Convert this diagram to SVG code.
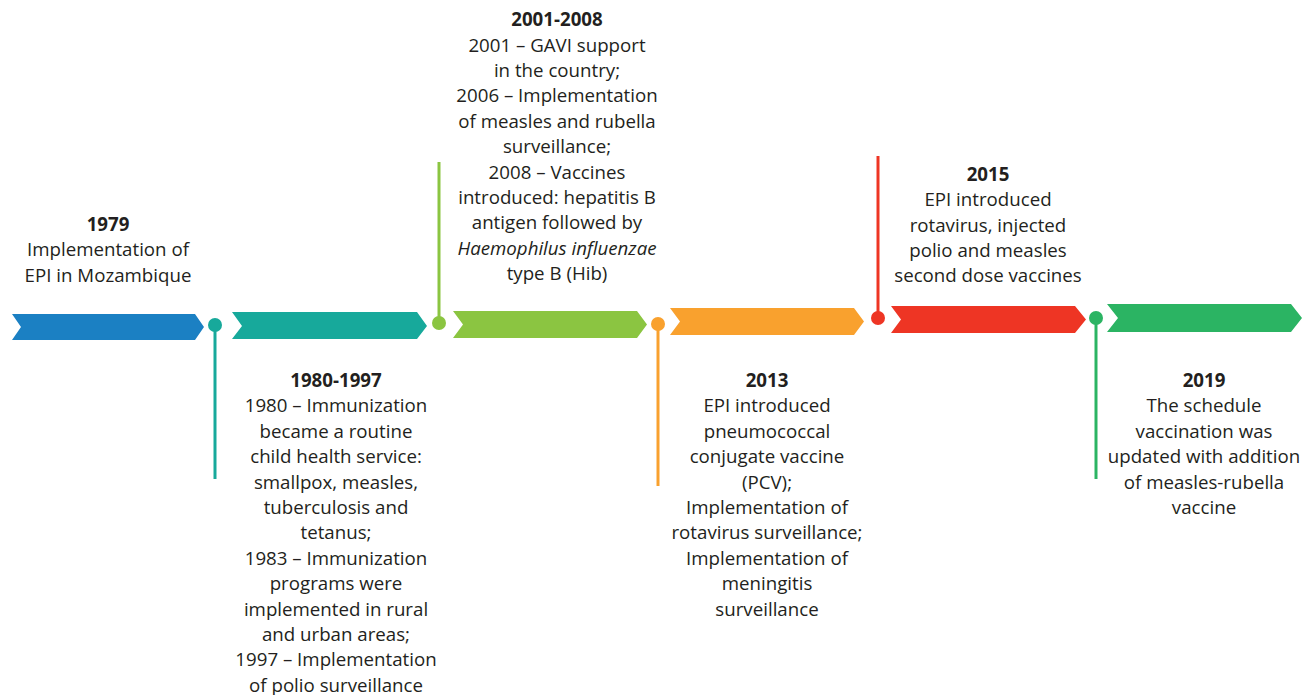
<svg xmlns="http://www.w3.org/2000/svg" width="1309" height="695" viewBox="0 0 1309 695">
<style>
text{font-family:"Open Sans","Noto Sans","DejaVu Sans",sans-serif;font-size:18.7px;fill:#231f20;text-anchor:middle}
.b{font-weight:bold}
.i{font-style:italic}
.pin{stroke-width:3}
</style>
<rect width="1309" height="695" fill="#fff"/>
<g id="connectors">
<line class="pin" x1="215" y1="325" x2="215" y2="479" stroke="#17a99b"/>
<circle cx="215" cy="325" r="7" fill="#17a99b"/>
<line class="pin" x1="439" y1="323" x2="439" y2="162" stroke="#8bc541"/>
<circle cx="439" cy="323" r="7" fill="#8bc541"/>
<line class="pin" x1="658" y1="324" x2="658" y2="486" stroke="#f9a12e"/>
<circle cx="658" cy="324" r="7" fill="#f9a12e"/>
<line class="pin" x1="878" y1="318" x2="878" y2="156" stroke="#ee3524"/>
<circle cx="878" cy="318" r="7" fill="#ee3524"/>
<line class="pin" x1="1096" y1="318" x2="1096" y2="479" stroke="#2bb463"/>
<circle cx="1096" cy="318" r="7" fill="#2bb463"/>
</g>
<g id="n1979">
<polygon points="12,314 195,314 204,327 195,340 12,340 21,327" fill="#1b80c3"/>
<text x="108" y="231" class="b">1979</text>
<text x="108" y="256">Implementation of</text>
<text x="108" y="282">EPI in Mozambique</text>
</g>
<g id="n1980">
<polygon points="232,312 417,312 427,326 417,339 232,339 242,326" fill="#17a99b"/>
<text x="336" y="387" class="b">1980-1997</text>
<text x="336" y="412">1980 – Immunization</text>
<text x="336" y="438">became a routine</text>
<text x="336" y="463">child health service:</text>
<text x="336" y="489">smallpox, measles,</text>
<text x="336" y="514">tuberculosis and</text>
<text x="336" y="539">tetanus;</text>
<text x="336" y="565">1983 – Immunization</text>
<text x="336" y="590">programs were</text>
<text x="336" y="616">implemented in rural</text>
<text x="336" y="641">and urban areas;</text>
<text x="336" y="666">1997 – Implementation</text>
<text x="336" y="692">of polio surveillance</text>
</g>
<g id="n2001">
<polygon points="453,311 637,311 647,324.5 637,338 453,338 463,324.5" fill="#8bc541"/>
<text x="557" y="26" class="b">2001-2008</text>
<text x="557" y="52">2001 – GAVI support</text>
<text x="557" y="77">in the country;</text>
<text x="557" y="102">2006 – Implementation</text>
<text x="557" y="128">of measles and rubella</text>
<text x="557" y="153">surveillance;</text>
<text x="557" y="179">2008 – Vaccines</text>
<text x="557" y="204">introduced: hepatitis B</text>
<text x="557" y="229">antigen followed by</text>
<text x="557" y="255" class="i">Haemophilus influenzae</text>
<text x="557" y="280">type B (Hib)</text>
</g>
<g id="n2013">
<polygon points="670,308 854,308 864,321.5 854,335 670,335 680,321.5" fill="#f9a12e"/>
<text x="767" y="387" class="b">2013</text>
<text x="767" y="412">EPI introduced</text>
<text x="767" y="438">pneumococcal</text>
<text x="767" y="463">conjugate vaccine</text>
<text x="767" y="489">(PCV);</text>
<text x="767" y="514">Implementation of</text>
<text x="767" y="539">rotavirus surveillance;</text>
<text x="767" y="565">Implementation of</text>
<text x="767" y="590">meningitis</text>
<text x="767" y="616">surveillance</text>
</g>
<g id="n2015">
<polygon points="891,306 1075,306 1086,319.5 1075,333 891,333 901,319.5" fill="#ee3524"/>
<text x="988" y="181" class="b">2015</text>
<text x="988" y="206">EPI introduced</text>
<text x="988" y="232">rotavirus, injected</text>
<text x="988" y="257">polio and measles</text>
<text x="988" y="282">second dose vaccines</text>
</g>
<g id="n2019">
<polygon points="1107,304 1291,304 1302,318 1291,332 1107,332 1118,318" fill="#2bb463"/>
<text x="1204" y="387" class="b">2019</text>
<text x="1204" y="412">The schedule</text>
<text x="1204" y="438">vaccination was</text>
<text x="1204" y="463">updated with addition</text>
<text x="1204" y="489">of measles-rubella</text>
<text x="1204" y="514">vaccine</text>
</g>
</svg>
